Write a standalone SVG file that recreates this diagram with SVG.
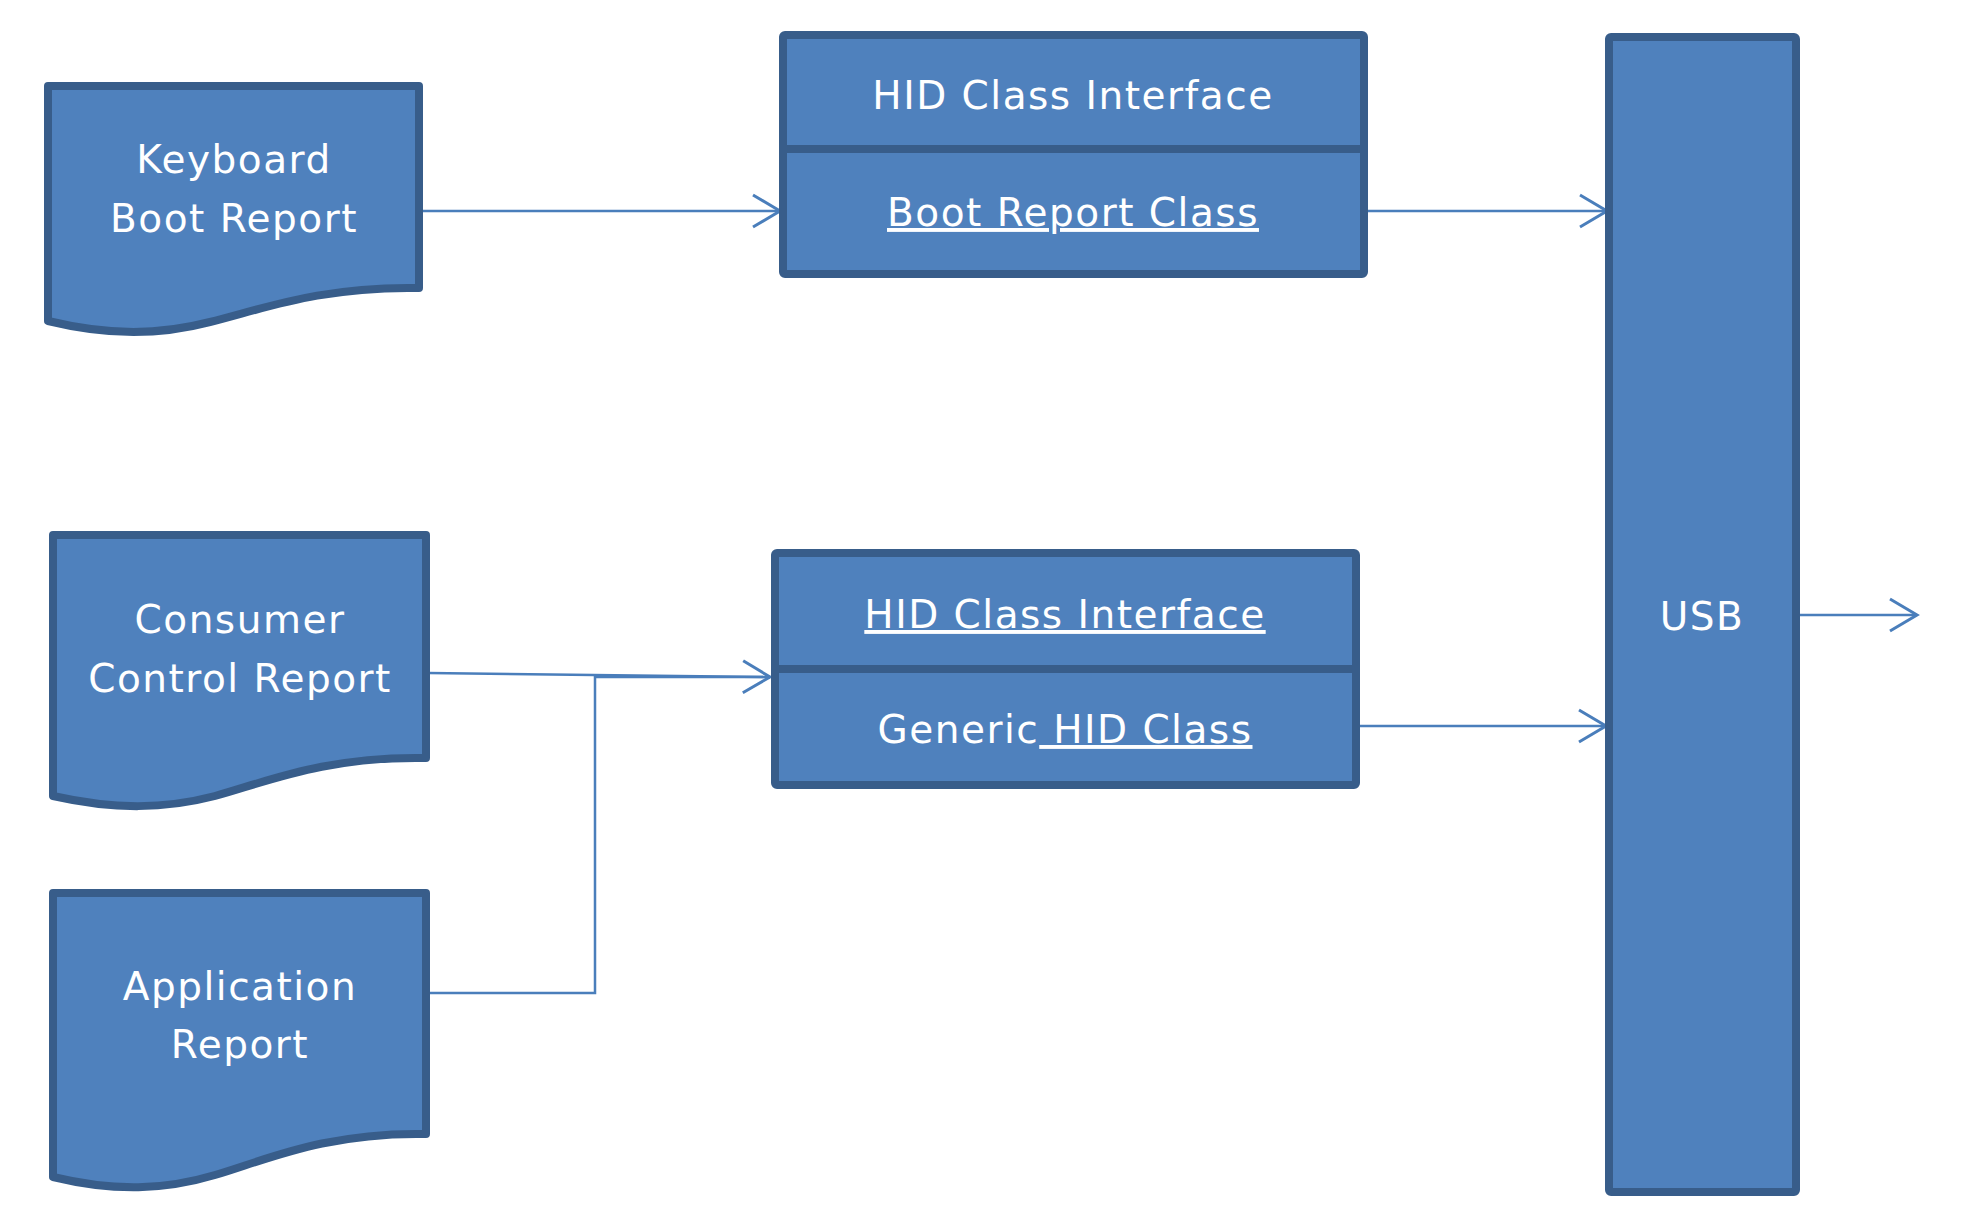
<svg xmlns="http://www.w3.org/2000/svg" width="1980" height="1221" viewBox="0 0 1980 1221">
<defs>
<style>
.shape{fill:#4f81bd;stroke:#385d8a;stroke-width:8;stroke-linejoin:round}
.lbl{font-family:"DejaVu Sans",Verdana,sans-serif;font-size:39px;letter-spacing:1.5px;fill:#ffffff;text-anchor:middle}
.ul{text-decoration:underline}
.conn{fill:none;stroke:#4a7ebb;stroke-width:2.5}
</style>
<marker id="arr" markerWidth="32" markerHeight="36" refX="29" refY="18" orient="auto" markerUnits="userSpaceOnUse">
<path d="M2,2 L29,18 L2,34" fill="none" stroke="#4a7ebb" stroke-width="3"/>
</marker>
</defs>
<g id="connectors">
<path class="conn" d="M422,211 L780,211" marker-end="url(#arr)"/>
<path class="conn" d="M1366,211 L1607,211" marker-end="url(#arr)"/>
<path class="conn" d="M428,673 L770,677" marker-end="url(#arr)"/>
<path class="conn" d="M428,993 L595,993 L595,677 L770,677"/>
<path class="conn" d="M1359,726 L1606,726" marker-end="url(#arr)"/>
<path class="conn" d="M1798,615 L1917,615" marker-end="url(#arr)"/>
</g>
<g id="keyboard">
<path class="shape" d="M48,86 L419,86 L419,288 C320,286 260,310 210,322 C160,335 110,336 48,321 Z"/>
<text class="lbl" x="234" y="173">Keyboard</text>
<text class="lbl" x="234" y="232">Boot Report</text>
</g>
<g id="consumer">
<path class="shape" d="M53,535 L426,535 L426,758 C326,756 266,782 215,796 C165,809 115,810 53,796 Z"/>
<text class="lbl" x="240" y="633">Consumer</text>
<text class="lbl" x="240" y="692">Control Report</text>
</g>
<g id="application">
<path class="shape" d="M53,893 L426,893 L426,1134 C326,1132 266,1160 215,1175 C165,1190 115,1192 53,1177 Z"/>
<text class="lbl" x="240" y="1000">Application</text>
<text class="lbl" x="240" y="1058">Report</text>
</g>
<g id="hid1">
<rect class="shape" x="783" y="35" width="581" height="239" rx="2"/>
<line x1="783" y1="149" x2="1364" y2="149" stroke="#385d8a" stroke-width="8"/>
<text class="lbl" x="1073" y="109">HID Class Interface</text>
<text class="lbl ul" x="1073" y="226">Boot Report Class</text>
</g>
<g id="hid2">
<rect class="shape" x="775" y="553" width="581" height="232" rx="2"/>
<line x1="775" y1="669" x2="1356" y2="669" stroke="#385d8a" stroke-width="8"/>
<text class="lbl ul" x="1065" y="628">HID Class Interface</text>
<text class="lbl" x="1065" y="743">Generic<tspan class="ul"> HID Class</tspan></text>
</g>
<g id="usb">
<rect class="shape" x="1609" y="37" width="187" height="1155" rx="2"/>
<text class="lbl" x="1702" y="630">USB</text>
</g>
</svg>
